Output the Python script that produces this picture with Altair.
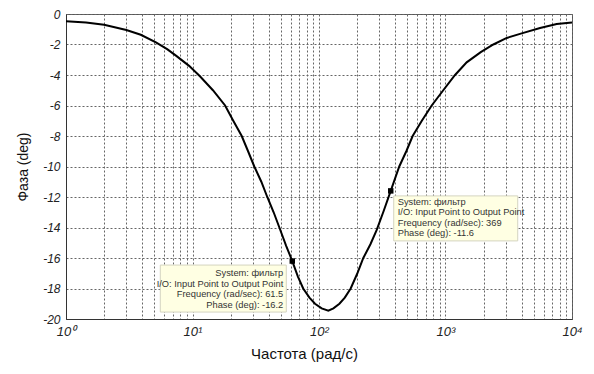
import altair as alt
import pandas as pd

freq = [1, 1.44, 2, 3, 3.9, 5.14, 6.3, 7.4, 9.4, 11.5, 14.5, 18.1, 21, 24.5, 27.5, 30.8,
        35, 39, 43.8, 48.6, 55, 61.5, 68, 75, 84, 93, 105, 118.5, 130, 145, 160, 178,
        200, 224, 255, 286, 325, 369, 431, 490, 550, 650, 778, 960, 1190, 1470, 1900,
        2390, 3050, 4000, 5590, 7570, 10000]
phase = [-0.48, -0.55, -0.70, -1.05, -1.36, -1.86, -2.3, -2.73, -3.4, -4.1, -5.0, -6.0,
         -7.0, -8.0, -9.0, -10.0, -11.0, -12.0, -13.0, -14.0, -15.2, -16.2, -17.2, -18.0,
         -18.6, -19.0, -19.3, -19.46, -19.3, -19.0, -18.6, -18.0, -17.05, -16.0, -15.1,
         -14.16, -12.9, -11.6, -10.0, -9.0, -8.0, -7.0, -6.0, -5.0, -4.0, -3.17, -2.5,
         -2.0, -1.57, -1.27, -0.92, -0.66, -0.55]

tip_freq = [61.5, 369]
tip_phase = [-16.2, -11.6]
tip_text = [
    "System: фильтр\nI/O: Input Point to Output Point\nFrequency (rad/sec): 61.5\nPhase (deg): -16.2",
    "System: фильтр\nI/O: Input Point to Output Point\nFrequency (rad/sec): 369\nPhase (deg): -11.6",
]

x_ticks = [m * 10 ** k for k in range(4) for m in range(1, 10)] + [10000]
y_ticks = [-20, -18, -16, -14, -12, -10, -8, -6, -4, -2, 0]

curve = pd.DataFrame({"f": freq, "p": phase})
tips = pd.DataFrame({"f": tip_freq, "p": tip_phase, "t": tip_text})

FONT = "Liberation Sans"

xscale = alt.Scale(type="log", domain=[1, 10000], nice=False)
yscale = alt.Scale(domain=[-20, 0], nice=False, zero=False)

label_expr = ("indexof([1,10,100,1000,10000], datum.value) >= 0 ? '10' + "
              "['⁰','¹','²','³','⁴'][indexof([1,10,100,1000,10000], datum.value)] : ''")

xaxis = alt.Axis(values=x_ticks, labelExpr=label_expr, title="Частота (рад/с)",
                 grid=True, gridDash=[2, 2], gridColor="#666", gridWidth=1,
                 ticks=False, labelFont=FONT, labelFontSize=13, labelFontStyle="italic",
                 labelColor="#222", labelPadding=6, labelOverlap=False, labelBound=False,
                 labelFlush=False,
                 titleFont=FONT, titleFontSize=15, titleFontWeight="normal",
                 titleColor="#111", titleX=238, titleY=27,
                 domainColor="#333", domainWidth=1)
yaxis = alt.Axis(values=y_ticks, labelExpr="replace(format(datum.value, 'd'), '−', '-')",
                 title="Фаза (deg)",
                 grid=True, gridDash=[2, 2], gridColor="#666", gridWidth=1,
                 ticks=False, labelFont=FONT, labelFontSize=12, labelFontStyle="italic",
                 labelColor="#222", labelPadding=6, labelOverlap=False, labelBound=False,
                 labelFlush=False,
                 titleFont=FONT, titleFontSize=14, titleFontWeight="normal",
                 titleColor="#111", titleX=-36,
                 domainColor="#333", domainWidth=1)

X = alt.X("f:Q", scale=xscale, axis=xaxis)
Y = alt.Y("p:Q", scale=yscale, axis=yaxis)

line = alt.Chart(curve).mark_line(color="black", strokeWidth=2).encode(x=X, y=Y)

t1 = tips.iloc[[0]]
t2 = tips.iloc[[1]]

box1 = alt.Chart(t1).mark_rect(fill="#FFFFE3", stroke="#d4d4c0", strokeWidth=1,
                               xOffset=-132, x2Offset=-6, yOffset=4, y2Offset=51).encode(
    x=X, x2="f:Q", y=Y, y2="p:Q")
box2 = alt.Chart(t2).mark_rect(fill="#FFFFE3", stroke="#d4d4c0", strokeWidth=1,
                               xOffset=3, x2Offset=127, yOffset=5, y2Offset=50).encode(
    x=X, x2="f:Q", y=Y, y2="p:Q")

txt1 = alt.Chart(t1).mark_text(align="right", baseline="middle", dx=-9, dy=12,
                               font=FONT, fontSize=9.3, lineHeight=10.5, color="#333",
                               lineBreak="\n").encode(x=X, y=Y, text="t:N")
txt2 = alt.Chart(t2).mark_text(align="left", baseline="middle", dx=7, dy=11,
                               font=FONT, fontSize=9.3, lineHeight=10.5, color="#333",
                               lineBreak="\n").encode(x=X, y=Y, text="t:N")

pts = alt.Chart(tips).mark_square(color="black", size=30, opacity=1).encode(x=X, y=Y)

chart = alt.layer(line, box1, box2, txt1, txt2, pts).properties(
    width=506, height=305,
    autosize=alt.AutoSizeParams(type="none"),
    padding={"left": 58, "top": 6, "right": 14, "bottom": 47},
    background="white",
).configure_view(stroke="#555", strokeWidth=1)

chart.save("out.html", embed_options={"renderer": "svg", "actions": False})
